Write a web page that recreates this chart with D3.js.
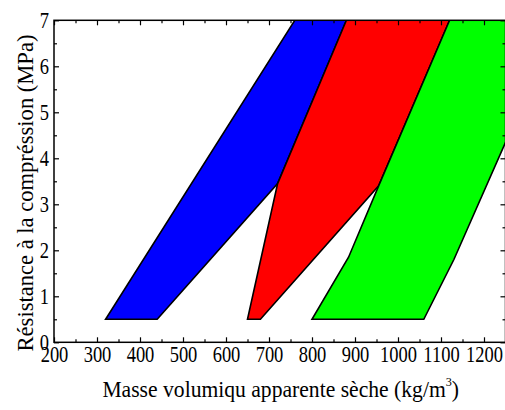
<!DOCTYPE html>
<html><head><meta charset="utf-8">
<script src="https://cdn.jsdelivr.net/npm/d3@7"></script>
<style>body{margin:0;background:#fff}svg{display:block}</style>
</head><body><svg id="c" width="505" height="410"></svg>
<script>
const xTicks = [200,300,400,500,600,700,800,900,1000,1100,1200];
const yTicks = [0,1,2,3,4,5,6,7];
const blueX = [320, 440, 720, 880, 760];
const blueY = [0.5, 0.5, 3.45, 7, 7];
const redX = [650, 680, 955, 1120, 880, 720];
const redY = [0.5, 0.5, 3.4, 7, 7, 3.45];
const greenX = [800, 1060, 1130, 1375, 1120, 955, 885];
const greenY = [0.5, 0.5, 1.8, 7, 7, 3.4, 1.85];
const seriesColors = ["#0000ff", "#ff0000", "#00ff00"];
const FONT = "Liberation Serif";

const L = 54, R = 505.5, T = 20.3, B = 342.3;
const svg = d3.select("#c");
const x = d3.scaleLinear().domain([200,1250]).range([L,R]);
const y = d3.scaleLinear().domain([0,7]).range([B,T]);

svg.append("defs").append("clipPath").attr("id","clip")
  .append("rect").attr("x",L).attr("y",T).attr("width",R-L).attr("height",B-T);

const polys = [[blueX,blueY],[redX,redY],[greenX,greenY]];
const line = d3.line().x(d=>x(d[0])).y(d=>y(d[1])).curve(d3.curveLinearClosed);
const pg = svg.append("g").attr("clip-path","url(#clip)");
polys.forEach((p,i)=>{
  const pts = p[0].map((v,j)=>[v,p[1][j]]);
  pg.append("path").attr("d",line(pts)).attr("fill",seriesColors[i])
    .attr("stroke","#000").attr("stroke-width",1.6).attr("stroke-linejoin","miter");
});

const minorX = d3.range(250,1250,100);
const minorY = d3.range(0.5,7,1);
function tickStyle(g){ g.attr("font-family",FONT); g.select(".domain").remove(); g.selectAll("line").attr("stroke","#000").attr("stroke-width",1.2); }
// bottom
svg.append("g").attr("transform",`translate(0,${B})`)
  .call(d3.axisBottom(x).tickValues(xTicks).tickSizeInner(-5).tickSizeOuter(0).tickFormat(d3.format("d")))
  .call(tickStyle)
  .call(g=>g.selectAll("text").attr("y",20).attr("dy",0).attr("font-size",24)
    .attr("font-family",FONT).attr("fill","#000")
    .attr("transform","scale(0.77,1)"));
svg.append("g").attr("transform",`translate(0,${B})`)
  .call(d3.axisBottom(x).tickValues(minorX).tickSize(-3).tickFormat(""))
  .call(tickStyle);
// top
svg.append("g").attr("transform",`translate(0,${T})`)
  .call(d3.axisTop(x).tickValues(xTicks).tickSize(-5).tickFormat(""))
  .call(tickStyle);
svg.append("g").attr("transform",`translate(0,${T})`)
  .call(d3.axisTop(x).tickValues(minorX).tickSize(-3).tickFormat(""))
  .call(tickStyle);
// left
svg.append("g").attr("transform",`translate(${L},0)`)
  .call(d3.axisLeft(y).tickValues(yTicks).tickSizeInner(-5).tickSizeOuter(0).tickFormat(d3.format("d")))
  .call(tickStyle)
  .call(g=>g.selectAll("text").attr("x",-5/0.77).attr("dy","0.3em").attr("font-size",24)
    .attr("font-family",FONT).attr("fill","#000")
    .attr("transform","scale(0.77,1)"));
svg.append("g").attr("transform",`translate(${L},0)`)
  .call(d3.axisLeft(y).tickValues(minorY).tickSize(-3).tickFormat(""))
  .call(tickStyle);
// right
svg.append("g").attr("transform",`translate(${R},0)`)
  .call(d3.axisRight(y).tickValues(yTicks).tickSize(-5).tickFormat(""))
  .call(tickStyle);
svg.append("g").attr("transform",`translate(${R},0)`)
  .call(d3.axisRight(y).tickValues(minorY).tickSize(-3).tickFormat(""))
  .call(tickStyle);

svg.append("rect").attr("x",L).attr("y",T).attr("width",R-L).attr("height",B-T)
  .attr("fill","none").attr("stroke","#000").attr("stroke-width",1.5);

// titles
const xt = svg.append("text").attr("transform","translate(280.7,397) scale(0.94,1)")
  .attr("text-anchor","middle").attr("font-size",23).attr("font-family",FONT).attr("fill","#000");
xt.append("tspan").text("Masse volumiqu apparente sèche (kg/m");
xt.append("tspan").attr("font-size",13).attr("dy",-11).text("3");
xt.append("tspan").attr("dy",11).text(")");

svg.append("text").attr("transform","translate(32.5,193) rotate(-90) scale(0.94,1)")
  .attr("text-anchor","middle").attr("font-size",24).attr("font-family",FONT).attr("fill","#000")
  .text("Résistance à la compréssion (MPa)");
</script></body></html>
